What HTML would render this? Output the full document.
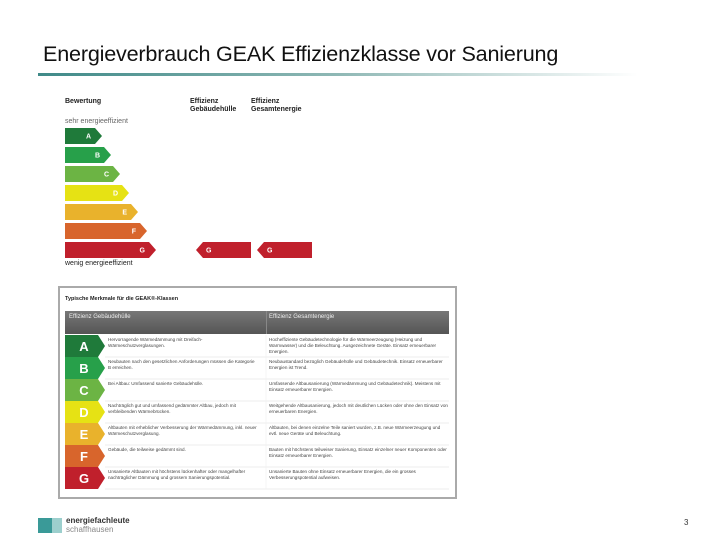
<!DOCTYPE html>
<html><head><meta charset="utf-8">
<style>
body{margin:0;width:720px;height:540px;background:#fff;position:relative;overflow:hidden;font-family:"Liberation Sans",sans-serif;}
.abs{position:absolute;}
#title{left:43px;top:41px;font-size:21.6px;color:#111;font-family:"Liberation Sans",sans-serif;letter-spacing:-0.2px;}
#rule{left:38px;top:73px;width:600px;height:3px;background:linear-gradient(90deg,#3f8a88,#8fb8b5 50%,#ffffff);}
.sm{font-size:7px;color:#222;}
.tbl{left:58px;top:286px;width:395px;height:209px;border:2px solid #aaa;}
.tx{position:absolute;font-size:4.6px;line-height:6px;color:#444;}
</style></head><body>
<div id="title" class="abs">Energieverbrauch GEAK Effizienzklasse vor Sanierung</div>
<div id="rule" class="abs"></div>

<div class="abs sm" style="left:65px;top:98px;font-weight:bold">Bewertung</div>
<div class="abs sm" style="left:190px;top:98px;font-weight:bold;line-height:8px">Effizienz<br>Gebäudehülle</div>
<div class="abs sm" style="left:251px;top:98px;font-weight:bold;line-height:8px">Effizienz<br>Gesamtenergie</div>
<div class="abs sm" style="left:65px;top:118px;color:#666">sehr energieeffizient</div>
<div class="abs sm" style="left:65px;top:260px">wenig energieeffizient</div>
<svg id="scale" class="abs" style="left:0;top:0" width="720" height="300"></svg>

<div class="abs tbl">
  <div class="abs" style="left:5px;top:8px;font-size:5.5px;font-weight:bold;color:#222">Typische Merkmale für die GEAK®-Klassen</div>
  <div class="abs" style="left:5px;top:23px;width:384px;height:23px;background:linear-gradient(#777,#555)">
    <div class="abs" style="left:4px;top:3px;font-size:6px;color:#eee">Effizienz Gebäudehülle</div>
    <div class="abs" style="left:201px;top:0;width:1px;height:23px;background:#888"></div>
    <div class="abs" style="left:204px;top:3px;font-size:6px;color:#eee">Effizienz Gesamtenergie</div>
  </div>
  <svg id="rows" class="abs" style="left:0;top:0" width="395" height="209"></svg>
  <div id="rowtext"></div>
</div>

<div class="abs" style="left:38px;top:518px;width:14px;height:15px;background:#3a9a98"></div>
<div class="abs" style="left:52px;top:518px;width:10px;height:15px;background:#9ccfcd"></div>
<div class="abs" style="left:66px;top:516px;font-size:8px;color:#333;font-weight:bold">energiefachleute</div>
<div class="abs" style="left:66px;top:525px;font-size:8px;color:#888">schaffhausen</div>
<div class="abs" style="left:684px;top:518px;font-size:8px;color:#333">3</div>

<script>
const classes=["A","B","C","D","E","F","G"];
const envelopeClass="G";
const totalClass="G";
const envText=["Hervorragende Wärmedämmung mit Dreifach-Wärmeschutzverglasungen.","Neubauten nach den gesetzlichen Anforderungen müssen die Kategorie B erreichen.","Bei Altbau: Umfassend sanierte Gebäudehülle.","Nachträglich gut und umfassend gedämmter Altbau, jedoch mit verbleibenden Wärmebrücken.","Altbauten mit erheblicher Verbesserung der Wärmedämmung, inkl. neuer Wärmeschutzverglasung.","Gebäude, die teilweise gedämmt sind.","Unsanierte Altbauten mit höchstens lückenhafter oder mangelhafter nachträglicher Dämmung und grossem Sanierungspotential."];
const totText=["Hocheffiziente Gebäudetechnologie für die Wärmeerzeugung (Heizung und Warmwasser) und die Beleuchtung. Ausgezeichnete Geräte. Einsatz erneuerbarer Energien.","Neubaustandard bezüglich Gebäudehülle und Gebäudetechnik. Einsatz erneuerbarer Energien ist Trend.","Umfassende Altbausanierung (Wärmedämmung und Gebäudetechnik). Meistens mit Einsatz erneuerbarer Energien.","Weitgehende Altbausanierung, jedoch mit deutlichen Lücken oder ohne den Einsatz von erneuerbaren Energien.","Altbauten, bei denen einzelne Teile saniert wurden, z.B. neue Wärmeerzeugung und evtl. neue Geräte und Beleuchtung.","Bauten mit höchstens teilweiser Sanierung, Einsatz einzelner neuer Komponenten oder Einsatz erneuerbarer Energien.","Unsanierte Bauten ohne Einsatz erneuerbarer Energien, die ein grosses Verbesserungspotential aufweisen."];
const colors=["#1f7a3a","#27a04a","#6cb444","#e6e214","#e9b22c","#d8652c","#c0202c"];
const NS="http://www.w3.org/2000/svg";
const svg=document.getElementById('scale');
const y0=128,step=19,bh=16,x0=65,w0=30,dw=9;
const yOf=i=>y0+i*step;
function mk(tag,attrs,parent){const e=document.createElementNS(NS,tag);for(const k in attrs)e.setAttribute(k,attrs[k]);parent.appendChild(e);return e;}
classes.forEach((c,i)=>{
  const y=yOf(i),w=w0+i*dw;
  const p=mk('polygon',{points:`${x0},${y} ${x0+w},${y} ${x0+w+7},${y+bh/2} ${x0+w},${y+bh} ${x0},${y+bh}`,fill:colors[i]},svg);
  
  
  const t=mk('text',{x:x0+w-4,y:y+bh/2+2.5,fill:'#fff','font-size':7,'font-weight':'bold','text-anchor':'end','font-family':'Liberation Sans'},svg);t.textContent=c;
});
function marker(cls,x,name){
  const i=classes.indexOf(cls),y=yOf(i);
  const p=mk('polygon',{points:`${x},${y+bh/2} ${x+7},${y} ${x+55},${y} ${x+55},${y+bh} ${x+7},${y+bh}`,fill:colors[i]},svg);
  
  
  const t=mk('text',{x:x+10,y:y+bh/2+2.5,fill:'#fff','font-size':7,'font-weight':'bold','font-family':'Liberation Sans'},svg);t.textContent=cls;
}
marker(envelopeClass,196,'envelope-marker');
marker(totalClass,257,'total-energy-marker');

const rs=document.getElementById('rows'),rt=document.getElementById('rowtext');
const ry0=47,rh=22;
classes.forEach((c,i)=>{
  const y=ry0+i*rh;
  const p=mk('polygon',{points:`5,${y} 38,${y} 45,${y+rh/2} 38,${y+rh} 5,${y+rh}`,fill:colors[i]},rs);
  
  
  const t=mk('text',{x:24,y:y+rh/2+5,fill:'#fff','font-size':13,'font-weight':'bold','text-anchor':'middle','font-family':'Liberation Sans'},rs);t.textContent=c;
  mk('line',{x1:45,x2:389,y1:y+rh,y2:y+rh,stroke:'#ddd','stroke-width':0.6},rs);
  mk('line',{x1:206,x2:206,y1:y,y2:y+rh,stroke:'#eee','stroke-width':0.6},rs);
  const a=document.createElement('div');a.className='tx';a.style.left='48px';a.style.top=(y+2)+'px';a.style.width='150px';a.textContent=envText[i];
  
  
  rt.appendChild(a);
  const b=document.createElement('div');b.className='tx';b.style.left='209px';b.style.top=(y+2)+'px';b.style.width='180px';b.textContent=totText[i];
  
  
  rt.appendChild(b);
});
</script>
</body></html>
